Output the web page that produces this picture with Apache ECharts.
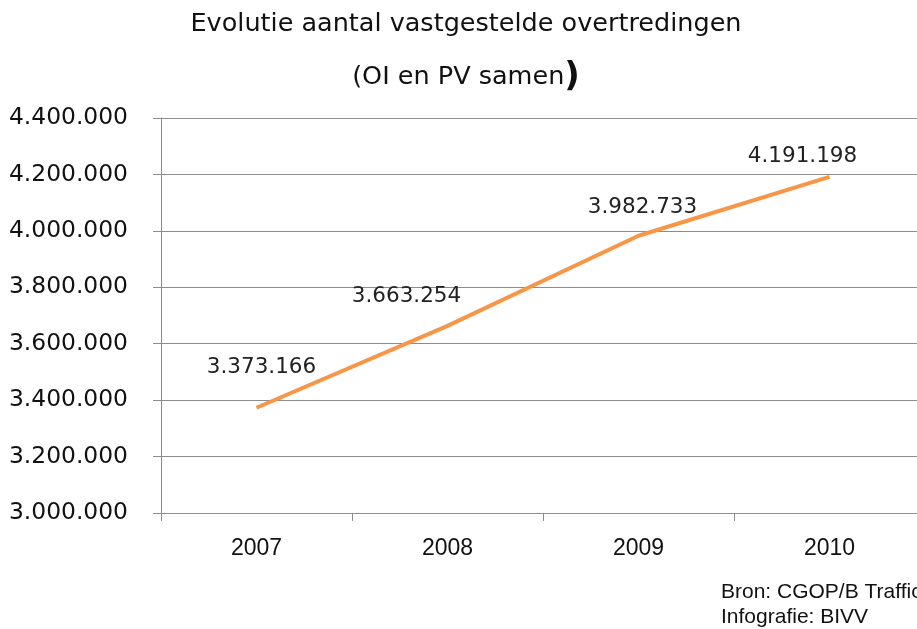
<!DOCTYPE html>
<html><head><meta charset="utf-8">
<script src="https://cdn.jsdelivr.net/npm/echarts@6/dist/echarts.min.js"></script>
<style>html,body{margin:0;padding:0;background:#fff;overflow:hidden}#c{width:925px;height:629px}</style>
</head><body><div id="c"></div>
<script>
const categories = ['2007', '2008', '2009', '2010'];
const values = [3373166, 3663254, 3982733, 4191198];
const yMin = 3000000, yMax = 4400000, yStep = 200000;

// label placement (layout only)
const labelOffsets = [[5, -29], [-41, -18], [4, -17], [-27, -9]];

function fmt(v) {
  return String(v).replace(/\B(?=(\d{3})+(?!\d))/g, '.');
}

const chart = echarts.init(document.getElementById('c'));
chart.setOption({
  animation: false,
  backgroundColor: '#fff',
  title: {
    text: 'Evolutie aantal vastgestelde overtredingen\n{a|(OI en PV samen}{p|)}',
    left: 461, top: -7.5, textAlign: 'center',
    textStyle: {
      fontFamily: 'DejaVu Sans', fontSize: 25.5, fontWeight: 'normal', color: '#111', lineHeight: 53,
      rich: {
        a: {fontFamily: 'DejaVu Sans', fontSize: 25.5, color: '#111'},
        p: {fontFamily: 'DejaVu Sans', fontSize: 34, fontWeight: 'bold', color: '#111'}
      }
    }
  },
  grid: {left: 161, top: 118, right: 0, height: 395, containLabel: false},
  xAxis: {
    type: 'category', data: categories, boundaryGap: true,
    axisLine: {lineStyle: {color: '#8c8c8c', width: 1}},
    axisTick: {show: true, length: 8, lineStyle: {color: '#8c8c8c'}},
    axisLabel: {fontFamily: 'Liberation Sans', fontSize: 23, color: '#111', margin: 24}
  },
  yAxis: {
    type: 'value', min: yMin, max: yMax, interval: yStep,
    axisLine: {show: true, lineStyle: {color: '#8c8c8c', width: 1}},
    axisTick: {show: true, length: 8, lineStyle: {color: '#8c8c8c'}},
    splitLine: {lineStyle: {color: '#8c8c8c', width: 1}},
    axisLabel: {fontFamily: 'DejaVu Sans', fontSize: 23.4, color: '#111', margin: 33, formatter: fmt}
  },
  series: [{
    type: 'line',
    data: values.map((v, i) => ({value: v, label: {offset: labelOffsets[i]}})),
    showSymbol: true, symbol: 'circle', symbolSize: 1,
    itemStyle: {color: 'rgba(0,0,0,0)'},
    lineStyle: {color: '#F79646', width: 4},
    label: {show: true, position: 'top', distance: 0, fontFamily: 'DejaVu Sans', fontSize: 21.5, color: '#222',
      formatter: p => fmt(p.value)}
  }],
  graphic: [
    {type: 'text', left: 721, top: 582, style: {text: 'Bron: CGOP/B Traffic', fontFamily: 'Liberation Sans', fontSize: 21, fill: '#111'}},
    {type: 'text', left: 721, top: 607, style: {text: 'Infografie: BIVV', fontFamily: 'Liberation Sans', fontSize: 21, fill: '#111'}}
  ]
});
</script></body></html>
